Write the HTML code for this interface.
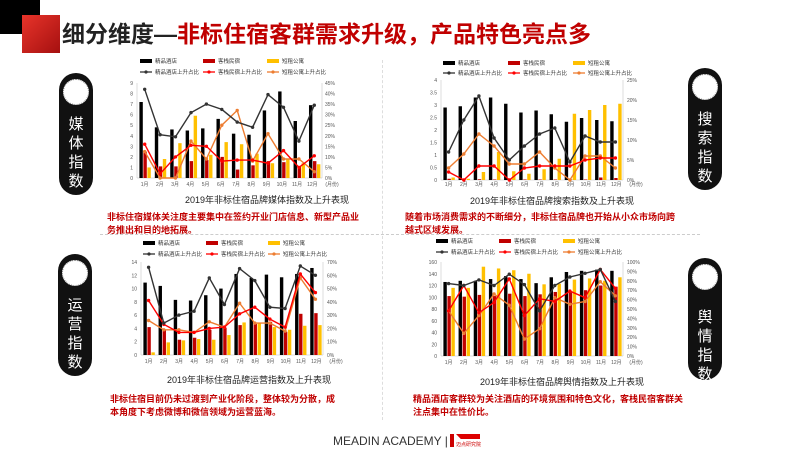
<!DOCTYPE html>
<html><head><meta charset="utf-8"><style>
*{margin:0;padding:0;box-sizing:border-box}
body{width:800px;height:450px;background:#fff;position:relative;overflow:hidden;font-family:"Liberation Sans","Noto Sans CJK SC",sans-serif}
.abs{position:absolute}
.pill{position:absolute;width:34px;height:122px;background:#111;border-radius:17px}
.pill .c{position:absolute;left:4px;top:6px;width:26px;height:26px;border-radius:50%;background:#fff;border:1.5px dotted #999}
.pill .t{position:absolute;left:0;width:34px;top:42px;color:#fff;font-size:15px;line-height:19px;text-align:center}
.red{color:#c00000;font-size:9px;font-weight:bold;line-height:13px;white-space:nowrap}
.ct{font-size:9px;color:#222;white-space:nowrap}
svg text{font-family:"Liberation Sans","Noto Sans CJK SC",sans-serif}
</style></head><body>
<div class="abs" style="left:0;top:0;width:40px;height:34px;background:#000"></div>
<div class="abs" style="left:22px;top:15px;width:38px;height:38px;background:linear-gradient(135deg,#e8342a,#a51010)"></div>
<div class="abs" style="left:62px;top:20px;font-size:23px;font-weight:bold;white-space:nowrap;line-height:28px"><span style="color:#222">细分维度—</span><span style="color:#c00000">非标住宿客群需求升级，产品特色亮点多</span></div>

<div class="abs" style="left:100px;top:234px;width:600px;border-top:1px dashed #ccc"></div>
<div class="abs" style="left:382px;top:60px;height:360px;border-left:1px dashed #ddd"></div>

<div class="pill" style="left:59px;top:73px"><div class="c"></div><div class="t">媒<br>体<br>指<br>数</div></div>
<div class="pill" style="left:688px;top:68px"><div class="c"></div><div class="t">搜<br>索<br>指<br>数</div></div>
<div class="pill" style="left:58px;top:254px"><div class="c"></div><div class="t">运<br>营<br>指<br>数</div></div>
<div class="pill" style="left:688px;top:258px"><div class="c"></div><div class="t" style="top:50px">舆<br>情<br>指<br>数</div></div>

<svg class="abs" style="left:0;top:0" width="800" height="450" id="charts">
<g font-size="5" fill="#555">
<g transform="translate(137,83)">
<text x="-4" y="2" text-anchor="end">9</text><text x="-4" y="12.6" text-anchor="end">8</text><text x="-4" y="23.1" text-anchor="end">7</text><text x="-4" y="33.7" text-anchor="end">6</text><text x="-4" y="44.2" text-anchor="end">5</text><text x="-4" y="54.8" text-anchor="end">4</text><text x="-4" y="65.3" text-anchor="end">3</text><text x="-4" y="75.9" text-anchor="end">2</text><text x="-4" y="86.4" text-anchor="end">1</text><text x="-4" y="97" text-anchor="end">0</text>
<text x="188" y="2">45%</text><text x="188" y="12.6">40%</text><text x="188" y="23.1">35%</text><text x="188" y="33.7">30%</text><text x="188" y="44.2">25%</text><text x="188" y="54.8">20%</text><text x="188" y="65.3">15%</text><text x="188" y="75.9">10%</text><text x="188" y="86.4">5%</text><text x="188" y="97">0%</text>
</g>
<g transform="translate(441,80)">
<text x="-4" y="2" text-anchor="end">4</text><text x="-4" y="14.5" text-anchor="end">3.5</text><text x="-4" y="27" text-anchor="end">3</text><text x="-4" y="39.5" text-anchor="end">2.5</text><text x="-4" y="52" text-anchor="end">2</text><text x="-4" y="64.5" text-anchor="end">1.5</text><text x="-4" y="77" text-anchor="end">1</text><text x="-4" y="89.5" text-anchor="end">0.5</text><text x="-4" y="102" text-anchor="end">0</text>
<text x="186" y="2">25%</text><text x="186" y="22">20%</text><text x="186" y="42">15%</text><text x="186" y="62">10%</text><text x="186" y="82">5%</text><text x="186" y="102">0%</text>
</g>
<g transform="translate(141,262)">
<text x="-4" y="2" text-anchor="end">14</text><text x="-4" y="15.3" text-anchor="end">12</text><text x="-4" y="28.6" text-anchor="end">10</text><text x="-4" y="41.9" text-anchor="end">8</text><text x="-4" y="55.1" text-anchor="end">6</text><text x="-4" y="68.4" text-anchor="end">4</text><text x="-4" y="81.7" text-anchor="end">2</text><text x="-4" y="95" text-anchor="end">0</text>
<text x="186" y="2">70%</text><text x="186" y="15.3">60%</text><text x="186" y="28.6">50%</text><text x="186" y="41.9">40%</text><text x="186" y="55.1">30%</text><text x="186" y="68.4">20%</text><text x="186" y="81.7">10%</text><text x="186" y="95">0%</text>
</g>
<g transform="translate(441,262)">
<text x="-4" y="2" text-anchor="end">160</text><text x="-4" y="13.8" text-anchor="end">140</text><text x="-4" y="25.5" text-anchor="end">120</text><text x="-4" y="37.3" text-anchor="end">100</text><text x="-4" y="49" text-anchor="end">80</text><text x="-4" y="60.8" text-anchor="end">60</text><text x="-4" y="72.5" text-anchor="end">40</text><text x="-4" y="84.3" text-anchor="end">20</text><text x="-4" y="96" text-anchor="end">0</text>
<text x="186" y="2">100%</text><text x="186" y="11.4">90%</text><text x="186" y="20.8">80%</text><text x="186" y="30.2">70%</text><text x="186" y="39.6">60%</text><text x="186" y="49">50%</text><text x="186" y="58.4">40%</text><text x="186" y="67.8">30%</text><text x="186" y="77.2">20%</text><text x="186" y="86.6">10%</text><text x="186" y="96">0%</text>
</g>
</g>
<g font-size="5" fill="#555" text-anchor="middle">
<g transform="translate(137,186)"><text x="7.6">1月</text><text x="22.9">2月</text><text x="38.1">3月</text><text x="53.4">4月</text><text x="68.6">5月</text><text x="83.9">6月</text><text x="99.1">7月</text><text x="114.4">8月</text><text x="129.6">9月</text><text x="144.9">10月</text><text x="160.1">11月</text><text x="175.4">12月</text><text x="195">(月份)</text></g>
<g transform="translate(441,186)"><text x="7.6">1月</text><text x="22.9">2月</text><text x="38.1">3月</text><text x="53.4">4月</text><text x="68.6">5月</text><text x="83.9">6月</text><text x="99.1">7月</text><text x="114.4">8月</text><text x="129.6">9月</text><text x="144.9">10月</text><text x="160.1">11月</text><text x="175.4">12月</text><text x="195">(月份)</text></g>
<g transform="translate(141,363)"><text x="7.6">1月</text><text x="22.9">2月</text><text x="38.1">3月</text><text x="53.4">4月</text><text x="68.6">5月</text><text x="83.9">6月</text><text x="99.1">7月</text><text x="114.4">8月</text><text x="129.6">9月</text><text x="144.9">10月</text><text x="160.1">11月</text><text x="175.4">12月</text><text x="195">(月份)</text></g>
<g transform="translate(441,364)"><text x="7.6">1月</text><text x="22.9">2月</text><text x="38.1">3月</text><text x="53.4">4月</text><text x="68.6">5月</text><text x="83.9">6月</text><text x="99.1">7月</text><text x="114.4">8月</text><text x="129.6">9月</text><text x="144.9">10月</text><text x="160.1">11月</text><text x="175.4">12月</text><text x="195">(月份)</text></g>
</g>
<g font-size="5.5" fill="#333">
<g transform="translate(140,62)">
<rect x="0" y="-3" width="12" height="4" fill="#000"/><text x="15" y="1">精品酒店</text>
<rect x="63" y="-3" width="12" height="4" fill="#c00000"/><text x="78" y="1">客栈民宿</text>
<rect x="127" y="-3" width="12" height="4" fill="#ffc000"/><text x="142" y="1">短租公寓</text>
<line x1="0" y1="10" x2="12" y2="10" stroke="#333" stroke-width="1.3"/><circle cx="6" cy="10" r="1.6" fill="#333"/><text x="15" y="12">精品酒店上升占比</text>
<line x1="63" y1="10" x2="75" y2="10" stroke="#f00" stroke-width="1.3"/><circle cx="69" cy="10" r="1.6" fill="#f00"/><text x="78" y="12">客栈民宿上升占比</text>
<line x1="127" y1="10" x2="139" y2="10" stroke="#ed7d31" stroke-width="1.3"/><circle cx="133" cy="10" r="1.6" fill="#ed7d31"/><text x="142" y="12">短租公寓上升占比</text>
</g>
<g transform="translate(443,64)">
<rect x="0" y="-3" width="12" height="4" fill="#000"/><text x="15" y="1">精品酒店</text>
<rect x="65" y="-3" width="12" height="4" fill="#c00000"/><text x="80" y="1">客栈民宿</text>
<rect x="130" y="-3" width="12" height="4" fill="#ffc000"/><text x="145" y="1">短租公寓</text>
<line x1="0" y1="9" x2="12" y2="9" stroke="#333" stroke-width="1.3"/><circle cx="6" cy="9" r="1.6" fill="#333"/><text x="15" y="11">精品酒店上升占比</text>
<line x1="65" y1="9" x2="77" y2="9" stroke="#f00" stroke-width="1.3"/><circle cx="71" cy="9" r="1.6" fill="#f00"/><text x="80" y="11">客栈民宿上升占比</text>
<line x1="130" y1="9" x2="142" y2="9" stroke="#ed7d31" stroke-width="1.3"/><circle cx="136" cy="9" r="1.6" fill="#ed7d31"/><text x="145" y="11">短租公寓上升占比</text>
</g>
<g transform="translate(143,244)">
<rect x="0" y="-3" width="12" height="4" fill="#000"/><text x="15" y="1">精品酒店</text>
<rect x="63" y="-3" width="12" height="4" fill="#c00000"/><text x="78" y="1">客栈民宿</text>
<rect x="125" y="-3" width="12" height="4" fill="#ffc000"/><text x="140" y="1">短租公寓</text>
<line x1="0" y1="10" x2="12" y2="10" stroke="#333" stroke-width="1.3"/><circle cx="6" cy="10" r="1.6" fill="#333"/><text x="15" y="12">精品酒店上升占比</text>
<line x1="63" y1="10" x2="75" y2="10" stroke="#f00" stroke-width="1.3"/><circle cx="69" cy="10" r="1.6" fill="#f00"/><text x="78" y="12">客栈民宿上升占比</text>
<line x1="125" y1="10" x2="137" y2="10" stroke="#ed7d31" stroke-width="1.3"/><circle cx="131" cy="10" r="1.6" fill="#ed7d31"/><text x="140" y="12">短租公寓上升占比</text>
</g>
<g transform="translate(436,242)">
<rect x="0" y="-3" width="12" height="4" fill="#000"/><text x="15" y="1">精品酒店</text>
<rect x="63" y="-3" width="12" height="4" fill="#c00000"/><text x="78" y="1">客栈民宿</text>
<rect x="127" y="-3" width="12" height="4" fill="#ffc000"/><text x="142" y="1">短租公寓</text>
<line x1="0" y1="10" x2="12" y2="10" stroke="#333" stroke-width="1.3"/><circle cx="6" cy="10" r="1.6" fill="#333"/><text x="15" y="12">精品酒店上升占比</text>
<line x1="63" y1="10" x2="75" y2="10" stroke="#f00" stroke-width="1.3"/><circle cx="69" cy="10" r="1.6" fill="#f00"/><text x="78" y="12">客栈民宿上升占比</text>
<line x1="127" y1="10" x2="139" y2="10" stroke="#ed7d31" stroke-width="1.3"/><circle cx="133" cy="10" r="1.6" fill="#ed7d31"/><text x="142" y="12">短租公寓上升占比</text>
</g>
</g>
<g id="plots"></g>
</svg>

<div class="abs ct" style="left:185px;top:193px">2019年非标住宿品牌媒体指数及上升表现</div>
<div class="abs ct" style="left:470px;top:194px">2019年非标住宿品牌搜索指数及上升表现</div>
<div class="abs ct" style="left:167px;top:373px">2019年非标住宿品牌运营指数及上升表现</div>
<div class="abs ct" style="left:480px;top:375px">2019年非标住宿品牌舆情指数及上升表现</div>

<div class="abs red" style="left:107px;top:211px">非标住宿媒体关注度主要集中在签约开业门店信息、新型产品业<br>务推出和目的地拓展。</div>
<div class="abs red" style="left:405px;top:211px">随着市场消费需求的不断细分，非标住宿品牌也开始从小众市场向跨<br>越式区域发展。</div>
<div class="abs red" style="left:110px;top:393px">非标住宿目前仍未过渡到产业化阶段，整体较为分散，成<br>本角度下考虑微博和微信领域为运营蓝海。</div>
<div class="abs red" style="left:413px;top:393px">精品酒店客群较为关注酒店的环境氛围和特色文化，客栈民宿客群关<br>注点集中在性价比。</div>

<div class="abs" style="left:333px;top:434px;font-size:12px;color:#333;white-space:nowrap">MEADIN ACADEMY |</div>
<div class="abs" style="left:450px;top:434px;width:4px;height:13px;background:#c00"></div>
<div class="abs" style="left:456px;top:434px;width:24px;height:5px;background:#d00;clip-path:polygon(0 0,100% 0,100% 100%,20% 100%)"></div>
<div class="abs" style="left:456px;top:441px;font-size:5px;color:#c00;white-space:nowrap">迈点研究院</div>

<script>
var charts=[
{x:137,y:83,w:185,h:95,lm:9,rm:45,
b:[7.2,4.8,4.6,4.5,4.7,5.6,4.2,4.1,6.4,8.2,5.4,6.9],r:[2.5,1.1,1.1,1.6,1.7,2.0,0.8,1.2,1.6,1.5,1.1,1.6],yl:[1.0,1.8,3.3,5.9,2.2,3.4,3.2,2.3,1.4,1.8,1.4,1.3],
lb:[42,20.5,19.5,31,35,32.5,26.5,24,39.5,33.5,17.5,34.5],lr:[16,2,10,15.5,15,8,8.5,8.5,7,13,5,10.5],lo:[12.5,0,0,17.5,9,25,32,8,21,9,9,3]},
{x:441,y:80,w:182,h:100,lm:4,rm:25,
b:[2.9,2.95,3.3,3.3,3.05,2.7,2.78,2.63,2.33,2.48,2.4,2.35],r:[0.05,0.02,0.03,0.02,0.02,0.02,0.02,0.02,0.02,0.02,0.1,0.08],yl:[0.1,0.05,0.32,1.12,0.35,0.25,0.43,0.85,2.65,2.8,3.0,3.05],
lb:[7,15,21,10.5,5,8.5,11.5,13,4.5,11,9.5,9.5],lr:[2,0,3.5,3.5,0,3,3.5,3.5,3.5,5,5.5,5.5],lo:[3,6.5,11.5,8.5,4,4,7,3,0,6,6,3]},
{x:141,y:262,w:182,h:93,lm:14,rm:70,
b:[10.9,10.4,8.3,8.2,9.0,10.0,12.2,11.6,12.1,11.7,12.2,13.1],r:[4.2,3.8,2.3,2.6,3.8,4.1,4.5,4.7,5.0,3.5,6.2,6.3],yl:[0.4,1.9,2.2,2.4,2.3,3.0,4.9,4.8,4.2,3.8,4.4,4.5],
lb:[66,24,30,33,58,38,65,56,36,35,67,60],lr:[41,23,17,17,20,21,31,36,27,21,61,47],lo:[26,19,19,17,25,21,39,24,24,18,58,42]},
{x:441,y:262,w:182,h:94,lm:160,rm:100,
b:[126,128,128,131,136,131,124,134,143,145,147,145],r:[102,101,104,102,106,102,105,109,108,112,120,118],yl:[116,116,152,149,146,140,122,123,130,132,128,134],
lb:[77,75,81,75,87,76,48,75,84,88,92,58],lr:[48,75,46,57,82,43,61,58,69,62,92,72],lo:[48,24,43,66,54,18,29,62,55,58,79,64]}];
var P=document.getElementById('plots'),s="";
charts.forEach(function(c){
 var g=c.w/12;
 s+='<g transform="translate('+c.x+','+c.y+')">';
 s+='<line x1="0" y1="0" x2="0" y2="'+c.h+'" stroke="#bbb" stroke-width="0.5"/><line x1="'+c.w+'" y1="0" x2="'+c.w+'" y2="'+c.h+'" stroke="#bbb" stroke-width="0.5"/><line x1="0" y1="'+c.h+'" x2="'+c.w+'" y2="'+c.h+'" stroke="#bbb" stroke-width="0.5"/>';
 for(var i=0;i<12;i++){
  var x0=i*g+2.4;
  [[c.b,'#000',0],[c.r,'#c00000',4],[c.yl,'#ffc000',8]].forEach(function(a){
   var hh=a[0][i]/c.lm*c.h; s+='<rect x="'+(x0+a[2])+'" y="'+(c.h-hh)+'" width="3.4" height="'+hh+'" fill="'+a[1]+'"/>';});
 }
 [[c.lo,'#ed7d31'],[c.lr,'#f00'],[c.lb,'#333']].forEach(function(a){
  var pts=a[0].map(function(v,i){return ((i+0.5)*g).toFixed(1)+','+(c.h-v/c.rm*c.h).toFixed(1)}).join(' ');
  s+='<polyline points="'+pts+'" fill="none" stroke="'+a[1]+'" stroke-width="1.4"/>';
  a[0].forEach(function(v,i){s+='<circle cx="'+((i+0.5)*g).toFixed(1)+'" cy="'+(c.h-v/c.rm*c.h).toFixed(1)+'" r="1.7" fill="'+a[1]+'"/>';});
 });
 s+='</g>';
});
P.innerHTML=s;
</script>
</body></html>
